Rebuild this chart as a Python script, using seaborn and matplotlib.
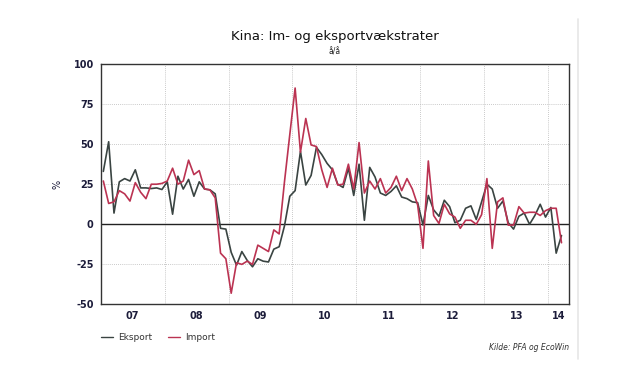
import numpy as np
import pandas as pd
import matplotlib
matplotlib.use("Agg")
import matplotlib.pyplot as plt
import seaborn as sns
from matplotlib.lines import Line2D

# monthly y/y growth, Jan 2007 - Mar 2014
eksport = [33, 51.5, 7, 26.5, 28.5, 27, 34, 22.7, 22.7, 22.3, 22.7, 21.7,
           26.5, 6.3, 30, 22, 28, 17.5, 26.5, 22, 21.5, 19, -2.5, -3,
           -17.5, -25.5, -17, -22.5, -26.5, -21.5, -23, -23.5, -15.5, -14, -1, 17.5,
           21, 45.5, 24.5, 30.5, 48, 43.5, 38, 34, 25, 23, 35, 18,
           37.5, 2.5, 35.5, 29.5, 19.5, 18, 20.5, 24, 17, 16, 14, 13.5,
           -0.5, 18, 9, 5, 15, 11, 1, 2.5, 10, 11.5, 3, 14,
           25, 22, 10, 14.5, 1, -3, 5, 7, 0, 5.5, 12.5, 4.5,
           10.5, -18, -7]
importv = [27, 13, 14, 21, 19, 14.5, 26, 20, 16, 25, 25, 25.5,
           27, 35, 25, 27, 40, 31, 33.5, 22, 21.5, 16.5, -18, -21.5,
           -43, -24, -25, -23, -25, -13, -15, -17, -3.5, -6, 26.5, 56,
           85, 45, 66, 49.5, 48.5, 34, 23, 35, 24.5, 25, 37.5, 22,
           51, 19.5, 27, 22, 28.5, 19.5, 23, 30, 21, 28.5, 22, 12,
           -15, 39.5, 5.5, 0.5, 12.5, 6.5, 4.5, -2.5, 2.5, 2.5, 0, 6,
           28.5, -15, 14, 16.5, -0.5, -0.5, 11, 7, 7.5, 7.5, 5.5, 8.5,
           10, 10, -11.5]
year_labels = ["07", "08", "09", "10", "11", "12", "13", "14"]
y_ticks = [-50, -25, 0, 25, 50, 75, 100]

n = len(eksport)
t = 2007 + (np.arange(n) + 0.5) / 12
df = pd.DataFrame({
    "t": np.concatenate([t, t]),
    "val": eksport + importv,
    "serie": ["Eksport"] * n + ["Import"] * n,
})

sns.set_style("white")
plt.rcParams["font.family"] = ["DejaVu Sans"]

fig = plt.figure(figsize=(6.4, 3.82), dpi=100)
ax = fig.add_axes([0.1573, 0.203, 0.7322, 0.6295])

farver = {"Eksport": "#3a4442", "Import": "#bb3352"}
sns.lineplot(data=df, x="t", y="val", hue="serie", palette=farver,
             linewidth=1.2, ax=ax, legend=False)

ax.axhline(0, color="#222222", lw=1.0, zorder=1)
ax.set_xlim(2007, 2014.33)
ax.set_ylim(-50, 100)

ax.set_yticks(y_ticks)
ax.set_yticklabels([str(v) for v in y_ticks])
ax.set_xticks(list(range(2008, 2015)), minor=True)
centres = [y + 0.5 for y in range(2007, 2014)] + [2014.16]
ax.set_xticks(centres)
ax.set_xticklabels(year_labels)
ax.tick_params(axis="x", which="major", length=0, pad=5)
ax.tick_params(axis="x", which="minor", length=3, color="#333333", direction="out")
ax.tick_params(axis="y", length=3, color="#333333", direction="out", pad=2)
for lab in ax.get_xticklabels() + ax.get_yticklabels():
    lab.set_fontsize(7)
    lab.set_fontweight("bold")
    lab.set_color("#1c1c3a")

ax.grid(False)
for v in [25, 50, 75, -25]:
    ax.axhline(v, color="#b8b8b8", lw=0.6, ls=(0, (1, 1.5)), zorder=0)
for y in range(2008, 2015):
    ax.axvline(y, color="#b8b8b8", lw=0.6, ls=(0, (1, 1.5)), zorder=0)

for s in ax.spines.values():
    s.set_color("#333333")
    s.set_linewidth(1.0)

ax.set_xlabel("")
ax.set_ylabel("%", fontsize=7, color="#1c1c3a", labelpad=8)

fig.text(0.523, 0.905, "Kina: Im- og eksportvækstrater", ha="center", va="center",
         fontsize=9.5, color="#111111")
fig.text(0.523, 0.865, "å/å", ha="center", va="center", fontsize=5.5, color="#222222")

handles = [Line2D([], [], color=farver["Eksport"], lw=1),
           Line2D([], [], color=farver["Import"], lw=1)]
leg = fig.legend(handles, ["Eksport", "Import"], loc="center left",
                 bbox_to_anchor=(0.145, 0.117), ncol=2, frameon=False,
                 fontsize=6.5, handlelength=1.3, handletextpad=0.6, columnspacing=1.8)
for txt in leg.get_texts():
    txt.set_color("#333333")

fig.text(0.889, 0.09, "Kilde: PFA og EcoWin", ha="right", va="center",
         fontsize=5.5, style="italic", color="#333333")

fig.add_artist(Line2D([0.903, 0.903], [0.06, 0.95], color="#e6e6e6", lw=1.2,
                      transform=fig.transFigure))

fig.savefig("out.png", dpi=100)
